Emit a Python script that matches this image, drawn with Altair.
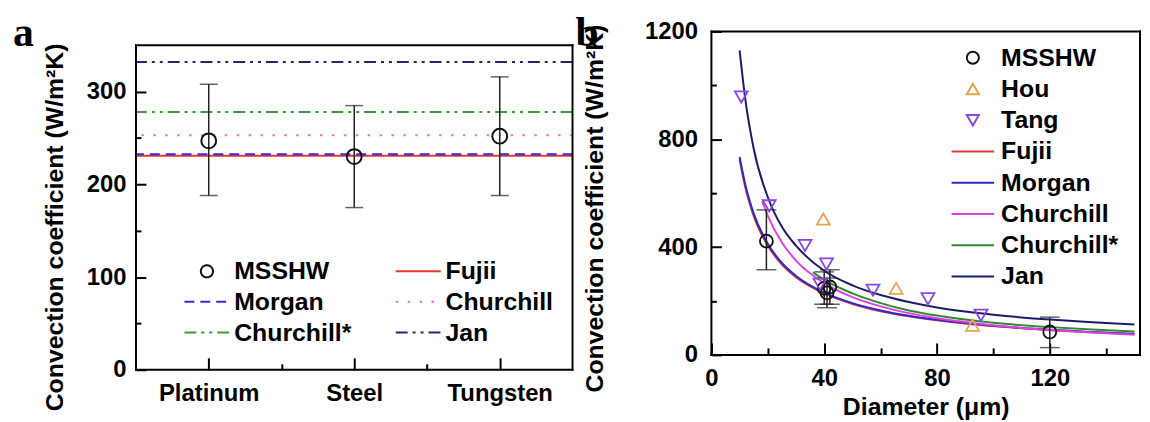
import json
import altair as alt
import pandas as pd

FONT = "Liberation Sans"
LETTER_FONT = "Liberation Serif"

# ---------------- Panel a data ----------------
materials = ["Platinum", "Steel", "Tungsten"]
material_pos = [1, 2, 3]
a_h = [247, 230, 252]
a_lo = [188, 175, 188]
a_hi = [308, 285, 316]

a_models = ["Fujii", "Morgan", "Churchill", "Churchill*", "Jan"]
a_model_h = [231, 232.5, 253, 278, 332]

# legend order (filled column by column)
a_series = ["MSSHW", "Morgan", "Churchill*", "Fujii", "Churchill", "Jan"]
a_colors = ["#111111", "#2F2FD8", "#3E9A3E", "#E8352F", "#E46FDC", "#26266F"]
a_dashes = [[1, 0], [10, 6], [12, 5, 3, 5, 3, 5], [1, 0], [2.5, 9.5], [12, 5, 3, 5, 3, 5]]
a_shapes = ["circle", "M-3.7,0L3.7,0", "M-3.7,0L3.7,0", "M-3.7,0L3.7,0", "M-3.7,0L3.7,0", "M-3.7,0L3.7,0"]

a_x_domain = [0.5, 3.5]
a_y_domain = [0, 365]
a_box_top = 350
a_y_labels = [0, 100, 200, 300]
a_y_ticks = [0, 50, 100, 150, 200, 250, 300]
a_x_ticks = [1, 1.5, 2, 2.5, 3]

# ---------------- Panel b data ----------------
b_series = ["MSSHW", "Hou", "Tang", "Fujii", "Morgan", "Churchill", "Churchill*", "Jan"]
b_colors = ["#111111", "#E3A64E", "#8B45E6", "#E03A3A", "#2A2AD0", "#E040E0", "#2E8B2E", "#1C1C6B"]
b_shapes = ["circle", "triangle-up", "triangle-down"] + ["M-3.5,0L3.5,0"] * 5

b_ms_d = [19.5, 40, 41, 42, 120]
b_ms_h = [422, 247, 230, 252, 85]
b_ms_lo = [316, 188, 175, 188, 27]
b_ms_hi = [538, 308, 285, 316, 140]

hou_d = [39.7, 65.5, 92.6]
hou_h = [504, 247, 110]

tang_d = [10.6, 20.5, 33.2, 38.5, 40.8, 57.3, 76.8, 95.6]
tang_h = [957, 553, 406, 262, 337, 240, 208, 147]

curve_d = [10, 12, 15, 20, 25, 30, 40, 50, 60, 70, 80, 90, 100, 110, 120, 135, 150]
fujii_h = [725, 622, 515, 405, 335, 288, 228, 189, 162, 143, 128, 116, 107, 99, 92, 84, 77]
morgan_h = [734, 632, 524, 412, 341, 293, 231, 192, 165, 145, 130, 118, 108, 100, 93, 85, 78]
jan_h = [1130, 950, 765, 585, 475, 405, 312, 258, 222, 196, 176, 161, 149, 139, 131, 121, 113]
church_d = [18, 20, 25, 30, 40, 50, 60, 70, 80, 90, 100, 110, 120, 135, 150]
church_h = [570, 516, 417, 350, 266, 214, 180, 155, 136, 122, 110, 100, 92, 83, 75]
churchs_d = [36, 40, 50, 60, 70, 80, 90, 100, 110, 120, 135, 150]
churchs_h = [306, 278, 228, 192, 165, 146, 131, 119, 110, 103, 94, 87]

b_x_domain = [0, 152]
b_y_domain = [0, 1200]
b_x_labels = [0, 40, 80, 120]
b_x_ticks = [0, 20, 40, 60, 80, 100, 120, 140]
b_y_labels = [0, 400, 800, 1200]
b_y_ticks = [0, 200, 400, 600, 800, 1000, 1200]

panel_letters = ["a", "b"]
Y_TITLE = "Convection coefficient (W/m²K)"

W_A, H_A = 440, 341
W_B, H_B = 432, 326

# ---------------- tables ----------------
a_pts = pd.DataFrame({"pos": material_pos, "h": a_h, "lo": a_lo, "hi": a_hi,
                      "sa": ["MSSHW"] * len(material_pos)})
a_caps = pd.DataFrame({"pos": material_pos * 2, "v": a_lo + a_hi})
a_lines = pd.DataFrame({"sa": a_models, "h": a_model_h})
a_tick_df = pd.DataFrame({"t": [1], "v": [0]})
a_hbox = pd.DataFrame({"v": [a_y_domain[0], a_box_top]})
a_vbox = pd.DataFrame({"x": a_x_domain, "y0": [a_y_domain[0]] * 2, "y1": [a_box_top] * 2})

b_pts = pd.DataFrame({
    "d": b_ms_d + hou_d + tang_d,
    "h": b_ms_h + hou_h + tang_h,
    "sb": ["MSSHW"] * len(b_ms_d) + ["Hou"] * len(hou_d) + ["Tang"] * len(tang_d),
})
b_err = pd.DataFrame({"d": b_ms_d, "lo": b_ms_lo, "hi": b_ms_hi})
b_caps = pd.DataFrame({"d": b_ms_d * 2, "v": b_ms_lo + b_ms_hi})
b_curves = pd.DataFrame({
    "d": curve_d + curve_d + church_d + churchs_d + curve_d,
    "h": fujii_h + morgan_h + church_h + churchs_h + jan_h,
    "sb": ["Fujii"] * len(curve_d) + ["Morgan"] * len(curve_d) + ["Churchill"] * len(church_d)
          + ["Churchill*"] * len(churchs_d) + ["Jan"] * len(curve_d),
})
b_tick_df = pd.DataFrame({"d": [0], "h": [0]})
b_hbox = pd.DataFrame({"v": b_y_domain})
b_vbox = pd.DataFrame({"x": b_x_domain, "y0": [b_y_domain[0]] * 2, "y1": [b_y_domain[1]] * 2})

lab = dict(labelFont=FONT, labelFontSize=24, labelFontWeight="bold", labelColor="black",
           labelFlush=False, grid=False)
ttl = dict(titleFont=FONT, titleFontSize=25, titleFontWeight="bold", titleColor="black")


def inward(orient, offset, values, test, big, small):
    return alt.Axis(orient=orient, offset=offset, values=values, labels=False, domain=False,
                    grid=False, title=None, tickColor="black", tickWidth=2,
                    tickSize={"condition": {"test": test, "value": big}, "value": small})


def box(hdf, vdf, xs, ys):
    top_bottom = alt.Chart(hdf).mark_rule(color="black", strokeWidth=2, strokeCap="square").encode(
        y=alt.Y("v:Q", scale=ys, axis=None))
    sides = alt.Chart(vdf).mark_rule(color="black", strokeWidth=2, strokeCap="square").encode(
        x=alt.X("x:Q", scale=xs, axis=None), y=alt.Y("y0:Q", scale=ys, axis=None), y2="y1:Q")
    return top_bottom, sides


def letter(ch, x, y):
    return alt.Chart(pd.DataFrame({"t": [ch]})).mark_text(
        font=LETTER_FONT, fontSize=42, fontWeight="bold", color="black",
        align="left", baseline="alphabetic").encode(
        text="t:N", x=alt.value(x), y=alt.value(y))


# ---------------- Panel a ----------------
xs_a = alt.Scale(domain=a_x_domain, nice=False, zero=False)
ys_a = alt.Scale(domain=a_y_domain, nice=False)
label_expr_a = f"{json.dumps(materials)}[round(datum.value) - 1]"

leg_a = alt.Legend(title=None, orient="none", legendX=59, legendY=229, columns=2,
                   columnPadding=39, rowPadding=5, labelOffset=15, symbolSize=150,
                   symbolStrokeWidth=2, labelFont=FONT, labelFontSize=25,
                   labelFontWeight="bold", labelColor="black")
col_a = alt.Color("sa:N", scale=alt.Scale(domain=a_series, range=a_colors), legend=leg_a)
dash_a = alt.StrokeDash("sa:N", scale=alt.Scale(domain=a_series, range=a_dashes), legend=leg_a)
shape_a = alt.Shape("sa:N", scale=alt.Scale(domain=a_series, range=a_shapes), legend=leg_a)

a_rules = alt.Chart(a_lines).mark_rule(strokeWidth=2).encode(
    y=alt.Y("h:Q", scale=ys_a, axis=None), color=col_a, strokeDash=dash_a)

a_err = alt.Chart(a_pts).mark_rule(color="#222222", strokeWidth=1.5).encode(
    x=alt.X("pos:Q", scale=xs_a,
            axis=alt.Axis(values=material_pos, labelExpr=label_expr_a, ticks=False,
                          domain=False, title=None, labelPadding=12, **lab)),
    y=alt.Y("lo:Q", scale=ys_a,
            axis=alt.Axis(values=a_y_labels, ticks=False, domain=False, title=Y_TITLE,
                          labelPadding=10, titleX=-82, titleY=197, titleBaseline="middle",
                          titleAlign="center", **lab, **ttl)),
    y2="hi:Q")

a_cap = alt.Chart(a_caps).mark_tick(orient="horizontal", size=18, thickness=1.5,
                                     color="#222222").encode(
    x=alt.X("pos:Q", scale=xs_a, axis=None), y=alt.Y("v:Q", scale=ys_a, axis=None))

a_point = alt.Chart(a_pts).mark_point(filled=False, size=225, strokeWidth=2, opacity=1).encode(
    x=alt.X("pos:Q", scale=xs_a, axis=None), y=alt.Y("h:Q", scale=ys_a, axis=None),
    color=col_a, shape=shape_a)

a_ticks = alt.Chart(a_tick_df).mark_point(opacity=0).encode(
    x=alt.X("t:Q", scale=xs_a, axis=inward("top", -H_A, a_x_ticks, "datum.value % 1 === 0", 12, 6)),
    y=alt.Y("v:Q", scale=ys_a, axis=inward("right", -W_A, a_y_ticks, "datum.value % 100 === 0", 10, 5)))

a_tb, a_sides = box(a_hbox, a_vbox, xs_a, ys_a)

panel_a = alt.layer(a_rules, a_err, a_cap, a_point, a_ticks, a_tb, a_sides,
                    letter(panel_letters[0], -124, 15)).resolve_axis(
    x="independent", y="independent").properties(width=W_A, height=H_A)

# ---------------- Panel b ----------------
xs_b = alt.Scale(domain=b_x_domain, nice=False, zero=False)
ys_b = alt.Scale(domain=b_y_domain, nice=False)

leg_b = alt.Legend(title=None, orient="none", legendX=251, legendY=14, columns=1,
                   rowPadding=5.5, labelOffset=16, symbolSize=150, symbolStrokeWidth=2,
                   labelFont=FONT, labelFontSize=25, labelFontWeight="bold",
                   labelColor="black")
col_b = alt.Color("sb:N", scale=alt.Scale(domain=b_series, range=b_colors), legend=leg_b)
shape_b = alt.Shape("sb:N", scale=alt.Scale(domain=b_series, range=b_shapes), legend=leg_b)

b_lines = alt.Chart(b_curves).mark_line(strokeWidth=2, interpolate="monotone").encode(
    x=alt.X("d:Q", scale=xs_b,
            axis=alt.Axis(values=b_x_labels, ticks=False, domain=False, title="Diameter (μm)",
                          labelPadding=12, titlePadding=4, **lab, **ttl)),
    y=alt.Y("h:Q", scale=ys_b,
            axis=alt.Axis(values=b_y_labels, format="d", ticks=False, domain=False,
                          title=Y_TITLE, labelPadding=14, titleX=-118, titleY=178,
                          titleBaseline="middle", titleAlign="center", **lab, **ttl)),
    color=col_b, order=alt.Order("d:Q"))

b_errbar = alt.Chart(b_err).mark_rule(color="#222222", strokeWidth=1.5).encode(
    x=alt.X("d:Q", scale=xs_b, axis=None), y=alt.Y("lo:Q", scale=ys_b, axis=None), y2="hi:Q")

b_cap = alt.Chart(b_caps).mark_tick(orient="horizontal", size=20, thickness=1.5,
                                     color="#222222").encode(
    x=alt.X("d:Q", scale=xs_b, axis=None), y=alt.Y("v:Q", scale=ys_b, axis=None))

b_point = alt.Chart(b_pts).mark_point(filled=False, size=170, strokeWidth=1.8, opacity=1).encode(
    x=alt.X("d:Q", scale=xs_b, axis=None), y=alt.Y("h:Q", scale=ys_b, axis=None),
    color=col_b, shape=shape_b)

b_ticks = alt.Chart(b_tick_df).mark_point(opacity=0).encode(
    x=alt.X("d:Q", scale=xs_b, axis=inward("top", -H_B, b_x_ticks, "datum.value % 40 === 0", 12, 7)),
    y=alt.Y("h:Q", scale=ys_b, axis=inward("right", -W_B, b_y_ticks, "datum.value % 400 === 0", 10, 5)))

b_tb, b_sides = box(b_hbox, b_vbox, xs_b, ys_b)

panel_b = alt.layer(b_lines, b_errbar, b_cap, b_point, b_ticks, b_tb, b_sides,
                    letter(panel_letters[1], -137, 15)).resolve_axis(
    x="independent", y="independent").properties(width=W_B, height=H_B)

chart = alt.hconcat(panel_a, panel_b, spacing=1).resolve_scale(
    color="independent", shape="independent", strokeDash="independent").properties(
    padding={"left": 5, "top": 3, "right": 0, "bottom": 0},
    background="white").configure_view(stroke=None)

chart.save("out.html", embed_options={"renderer": "svg", "actions": False})
